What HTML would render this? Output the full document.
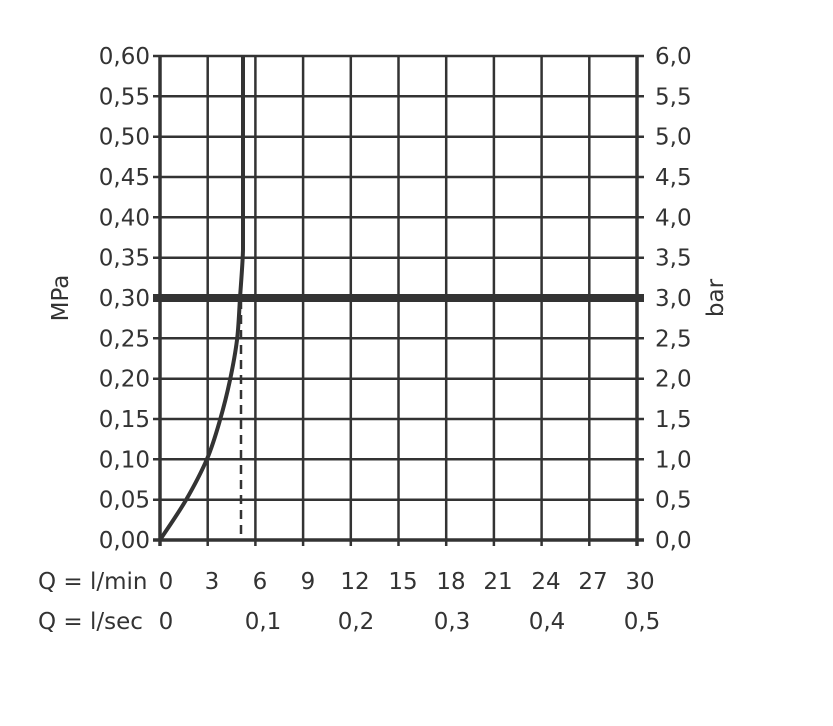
<!DOCTYPE html>
<html><head><meta charset="utf-8"><style>
body{margin:0;background:#fff}
svg text{font-family:"DejaVu Sans","Liberation Sans",sans-serif;font-size:23px;fill:#333}
</style></head><body>
<svg width="833" height="721" viewBox="0 0 833 721">
<g stroke="#333" stroke-width="2.5" fill="none">
<line x1="153" y1="56" x2="644" y2="56"/>
<line x1="153" y1="96.3" x2="644" y2="96.3"/>
<line x1="153" y1="136.7" x2="644" y2="136.7"/>
<line x1="153" y1="177" x2="644" y2="177"/>
<line x1="153" y1="217.3" x2="644" y2="217.3"/>
<line x1="153" y1="257.7" x2="644" y2="257.7"/>
<line x1="153" y1="338.3" x2="644" y2="338.3"/>
<line x1="153" y1="378.7" x2="644" y2="378.7"/>
<line x1="153" y1="419" x2="644" y2="419"/>
<line x1="153" y1="459.3" x2="644" y2="459.3"/>
<line x1="153" y1="499.7" x2="644" y2="499.7"/>
<line x1="207.7" y1="56" x2="207.7" y2="546"/>
<line x1="255.4" y1="56" x2="255.4" y2="546"/>
<line x1="303.1" y1="56" x2="303.1" y2="546"/>
<line x1="350.8" y1="56" x2="350.8" y2="546"/>
<line x1="398.5" y1="56" x2="398.5" y2="546"/>
<line x1="446.2" y1="56" x2="446.2" y2="546"/>
<line x1="493.9" y1="56" x2="493.9" y2="546"/>
<line x1="541.6" y1="56" x2="541.6" y2="546"/>
<line x1="589.3" y1="56" x2="589.3" y2="546"/>
<line x1="160" y1="56" x2="160" y2="546" stroke-width="3.5"/>
<line x1="637" y1="56" x2="637" y2="546" stroke-width="3.5"/>
<line x1="153" y1="540" x2="644" y2="540" stroke-width="3.5"/>
<line x1="153" y1="298" x2="644" y2="298" stroke-width="8"/>
<line x1="241" y1="300" x2="241" y2="540" stroke-width="2.5" stroke-dasharray="9,6"/>
<path d="M160,540 C164.3,533.3 178.2,513.5 186,500 C193.8,486.5 201.3,472.3 207,459 C212.7,445.7 216.2,433.2 220,420 C223.8,406.8 227.2,393.3 230,380 C232.8,366.7 235.3,353.7 237,340 C238.7,326.3 239,313 240,298 C241,283 242.5,266 243,250 L243,56" stroke-width="4"/>
</g>
<g text-anchor="end">
<text x="150" y="64">0,60</text><text x="150" y="104.3">0,55</text><text x="150" y="144.7">0,50</text><text x="150" y="185">0,45</text><text x="150" y="225.3">0,40</text><text x="150" y="265.7">0,35</text><text x="150" y="306">0,30</text><text x="150" y="346.3">0,25</text><text x="150" y="386.7">0,20</text><text x="150" y="427">0,15</text><text x="150" y="467.3">0,10</text><text x="150" y="507.7">0,05</text><text x="150" y="548">0,00</text>
</g>
<g>
<text x="655" y="64">6,0</text><text x="655" y="104.3">5,5</text><text x="655" y="144.7">5,0</text><text x="655" y="185">4,5</text><text x="655" y="225.3">4,0</text><text x="655" y="265.7">3,5</text><text x="655" y="306">3,0</text><text x="655" y="346.3">2,5</text><text x="655" y="386.7">2,0</text><text x="655" y="427">1,5</text><text x="655" y="467.3">1,0</text><text x="655" y="507.7">0,5</text><text x="655" y="548">0,0</text>
</g>
<text transform="translate(68,298) rotate(-90)" text-anchor="middle">MPa</text>
<text transform="translate(723,298) rotate(-90)" text-anchor="middle">bar</text>
<g text-anchor="middle">
<text x="166" y="589">0</text><text x="212" y="589">3</text><text x="260" y="589">6</text><text x="308" y="589">9</text><text x="355" y="589">12</text><text x="403" y="589">15</text><text x="451" y="589">18</text><text x="498" y="589">21</text><text x="546" y="589">24</text><text x="593" y="589">27</text><text x="640" y="589">30</text>
<text x="166" y="629">0</text><text x="263" y="629">0,1</text><text x="356" y="629">0,2</text><text x="452" y="629">0,3</text><text x="547" y="629">0,4</text><text x="642" y="629">0,5</text>
</g>
<text x="38" y="589">Q = l/min</text>
<text x="38" y="629">Q = l/sec</text>
</svg>
</body></html>
